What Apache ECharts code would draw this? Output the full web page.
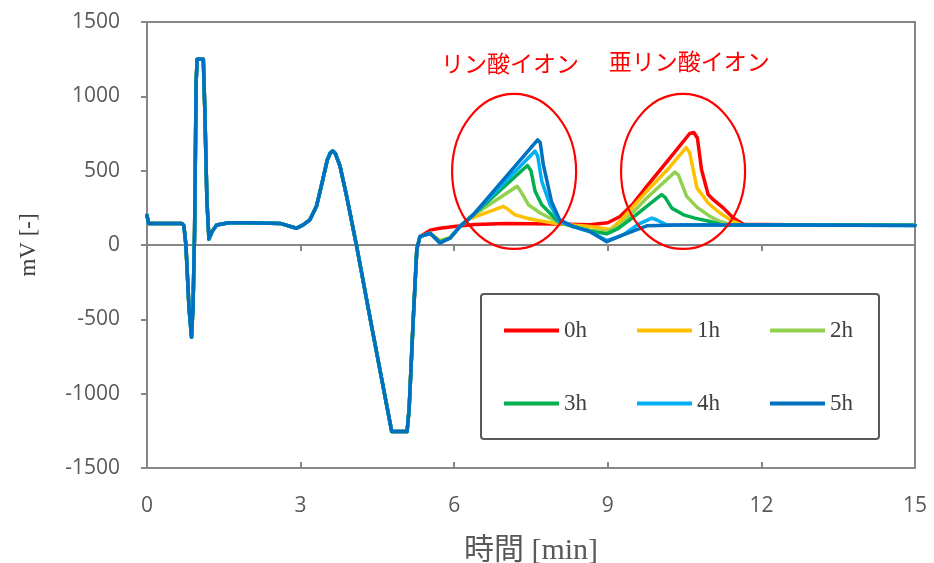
<!DOCTYPE html>
<html>
<head>
<meta charset="utf-8">
<script src="https://cdn.jsdelivr.net/npm/echarts@6/dist/echarts.min.js"></script>
<style>
  html, body { margin: 0; padding: 0; background: #fff; }
  #main { width: 934px; height: 563px; }
</style>
</head>
<body>
<div id="main"></div>
<script>
// shared part of every run (0 - 5.3 min), all six traces lie on top of each other here
var frontTimes = [0, 0.03, 0.68, 0.72, 0.76, 0.82, 0.87, 0.90, 0.93, 0.96, 0.98, 1.10, 1.13, 1.17, 1.21, 1.27, 1.36, 1.6, 2.0, 2.6, 2.92, 3.05, 3.18, 3.31, 3.42, 3.52, 3.58, 3.63, 3.68, 3.77, 3.9, 4.09, 4.4, 4.78, 5.08, 5.12, 5.2, 5.27, 5.33];
var frontMv = [200, 145, 145, 130, 0, -420, -620, -400, 100, 1100, 1250, 1250, 900, 300, 40, 90, 135, 150, 150, 145, 113, 135, 169, 260, 420, 570, 620, 632, 615, 530, 327, 0, -570, -1255, -1255, -1100, -500, -30, 56];

// per run, [time min, mV]
var tail0h = [[5.53,100],[5.72,113],[6.0,125],[6.4,138],[7.0,145],[8.0,142],[8.65,137],[9.0,150],[9.24,192],[9.5,280],[9.76,395],[10.2,580],[10.6,750],[10.68,757],[10.75,720],[10.83,508],[10.96,339],[11.06,305],[11.26,248],[11.45,181],[11.65,140],[12.5,136],[15,133]];
var tail1h = [[5.53,79],[5.72,30],[5.92,50],[6.11,124],[6.3,175],[6.96,260],[7.05,240],[7.19,203],[7.48,175],[7.94,147],[8.3,135],[8.65,124],[9.05,105],[9.24,160],[9.76,361],[10.2,520],[10.53,655],[10.6,620],[10.74,384],[10.96,282],[11.19,215],[11.39,169],[11.6,138],[12.5,136],[15,133]];
var tail2h = [[5.53,79],[5.72,25],[5.92,47],[6.11,124],[6.37,200],[7.23,395],[7.3,360],[7.45,271],[7.68,215],[8.0,158],[8.3,125],[8.65,100],[8.98,90],[9.24,130],[9.76,316],[10.31,490],[10.38,470],[10.54,327],[10.74,255],[11.0,192],[11.19,158],[11.4,138],[12.5,136],[15,133]];
var tail3h = [[5.53,79],[5.72,20],[5.92,47],[6.11,124],[6.37,203],[7.43,535],[7.5,500],[7.58,361],[7.71,271],[8.03,158],[8.33,124],[8.65,95],[8.98,75],[9.2,110],[9.43,169],[9.76,260],[10.05,339],[10.12,320],[10.25,248],[10.48,203],[10.7,181],[11.0,158],[11.2,138],[12.5,136],[15,133]];
var tail4h = [[5.53,79],[5.72,15],[5.92,47],[6.11,124],[6.37,203],[7.58,632],[7.63,600],[7.71,429],[7.87,271],[8.06,158],[8.33,124],[8.65,90],[8.98,30],[9.3,68],[9.6,140],[9.86,181],[9.95,170],[10.15,135],[12.5,135],[15,132]];
var tail5h = [[5.53,79],[5.72,13],[5.92,47],[6.11,124],[6.37,203],[7.63,707],[7.68,690],[7.74,542],[7.90,293],[8.06,169],[8.33,124],[8.65,90],[8.98,22],[9.3,68],[9.76,129],[10.4,135],[12.5,134],[15,131]];

var runNames = ['0h', '1h', '2h', '3h', '4h', '5h'];
var runColors = ['#ff0000', '#ffc000', '#92d050', '#00b050', '#00b0f0', '#0070c0'];
var tails = [tail0h, tail1h, tail2h, tail3h, tail4h, tail5h];

var xTicks = { min: 0, max: 15, interval: 3 };
var yTicks = { min: -1500, max: 1500, interval: 500 };

// annotation anchors in data units
var notes = [
  { text: 'リン酸イオン', at: [7.09, 1220], ring: [7.17, 495] },
  { text: '亜リン酸イオン', at: [10.59, 1233], ring: [10.47, 495] }
];

function buildData(tail) {
  var d = [];
  for (var i = 0; i < frontTimes.length; i++) d.push([frontTimes[i], frontMv[i]]);
  return d.concat(tail);
}

var myChart = echarts.init(document.getElementById('main'));

var series = runNames.map(function (name, i) {
  return {
    name: name,
    type: 'line',
    data: buildData(tails[i]),
    showSymbol: false,
    color: runColors[i],
    lineStyle: { width: 3.5, color: runColors[i], join: 'round', cap: 'round' }
  };
});

var option = {
  animation: false,
  grid: {
    left: 147, right: 19, top: 22, bottom: 95,
    outerBoundsMode: 'none',
    containLabel: false,
    show: true,
    borderColor: '#868686',
    borderWidth: 2
  },
  legend: {
    data: runNames,
    left: 481, top: 294,
    width: 360,
    padding: [25, 26, 24, 23],
    itemWidth: 55, itemHeight: 4,
    itemGap: 50,
    icon: 'rect',
    borderColor: '#595959', borderWidth: 2, borderRadius: 3,
    textStyle: { fontFamily: 'Liberation Serif', fontSize: 23, color: '#404040', lineHeight: 16 }
  },
  xAxis: [
    {
      type: 'value', min: xTicks.min, max: xTicks.max, interval: xTicks.interval,
      position: 'bottom',
      axisLine: { show: false, onZero: false },
      axisTick: { show: false },
      splitLine: { show: false },
      axisLabel: { margin: 28, fontFamily: 'Open Sans', fontSize: 21, color: '#595959' },
      name: '時間 [min]', nameLocation: 'middle', nameGap: 68,
      nameTextStyle: { fontFamily: "'Liberation Serif', 'Noto Sans CJK JP'", fontSize: 30, color: '#595959' }
    },
    {
      type: 'value', min: xTicks.min, max: xTicks.max, interval: xTicks.interval,
      position: 'bottom',
      axisLine: { show: true, onZero: true, lineStyle: { color: '#868686', width: 2 } },
      axisTick: { show: true, length: 6, lineStyle: { color: '#868686', width: 2 } },
      axisLabel: { show: false },
      splitLine: { show: false }
    },
    {
      type: 'value', min: xTicks.min, max: xTicks.max, interval: xTicks.interval,
      position: 'bottom',
      axisLine: { show: false, onZero: true },
      axisTick: { show: true, inside: true, length: 6, lineStyle: { color: '#868686', width: 2 } },
      axisLabel: { show: false },
      splitLine: { show: false }
    }
  ],
  yAxis: {
    type: 'value', min: yTicks.min, max: yTicks.max, interval: yTicks.interval,
    axisLine: { show: true, onZero: false, lineStyle: { color: '#868686', width: 2 } },
    axisTick: { show: true, length: 6, lineStyle: { color: '#868686', width: 2 } },
    splitLine: { show: false },
    axisLabel: {
      margin: 27, fontFamily: 'Open Sans', fontSize: 21, color: '#595959',
      formatter: function (v) { return String(v); }
    },
    name: 'mV [-]', nameLocation: 'middle', nameGap: 107,
    nameTextStyle: { fontFamily: 'Liberation Serif', fontSize: 23, color: '#404040' }
  },
  series: series
};

myChart.setOption(option);

// red rings and labels, placed from data coordinates
var g = [];
notes.forEach(function (n) {
  var c = myChart.convertToPixel({ xAxisIndex: 0, yAxisIndex: 0 }, n.ring);
  var t = myChart.convertToPixel({ xAxisIndex: 0, yAxisIndex: 0 }, n.at);
  g.push({
    type: 'ellipse', z: 100,
    shape: { cx: c[0], cy: c[1], rx: 62, ry: 77.5 },
    style: { fill: 'none', stroke: '#ff0000', lineWidth: 2.2 }
  });
  g.push({
    type: 'text', z: 100, x: t[0], y: t[1],
    style: { text: n.text, fill: '#ff0000', fontSize: 23, fontFamily: 'Noto Sans CJK JP', align: 'center', verticalAlign: 'middle' }
  });
});
myChart.setOption({ graphic: g });
</script>
</body>
</html>
